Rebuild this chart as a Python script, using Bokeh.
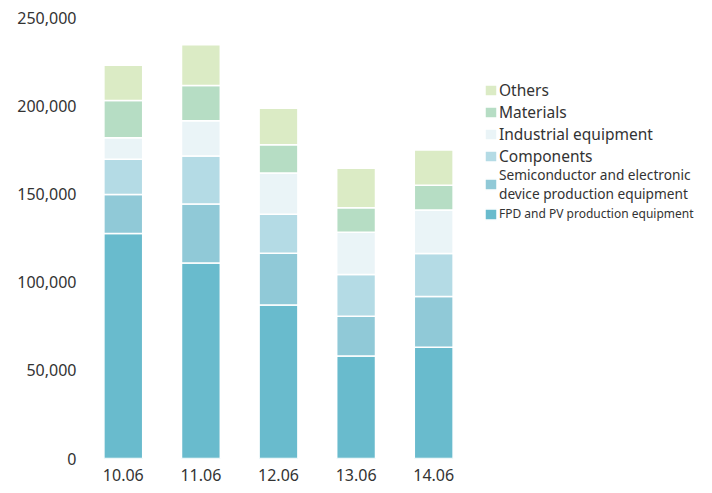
from bokeh.plotting import figure
from bokeh.models import FixedTicker, NumeralTickFormatter, Legend, LegendItem, ColumnDataSource
from bokeh.embed import file_html
from bokeh.resources import INLINE

periods = ["10.06", "11.06", "12.06", "13.06", "14.06"]
fpd = [127500, 110800, 87000, 58100, 63000]
semi = [22100, 33500, 29300, 22600, 28900]
components = [20000, 27200, 22200, 23600, 24300]
industrial = [12200, 20000, 23400, 24000, 24700]
materials = [21200, 20000, 15900, 13900, 14000]
others = [20000, 23000, 20700, 22300, 20000]
y_ticks = [0, 50000, 100000, 150000, 200000, 250000]

series = ["fpd", "semi", "components", "industrial", "materials", "others"]
labels = ["FPD and PV production equipment",
          "Semiconductor and electronic\ndevice production equipment",
          "Components", "Industrial equipment", "Materials", "Others"]
colors = ["#69bbcd", "#90c9d7", "#b4dbe5", "#eaf4f7", "#b6ddc4", "#dbebc5"]

xpos = list(range(len(periods)))
source = ColumnDataSource(dict(x=xpos, fpd=fpd, semi=semi, components=components,
                               industrial=industrial, materials=materials, others=others))

p = figure(x_range=(-0.5, 7.567), y_range=(0, 250000), width=710, height=490,
           output_backend="svg", toolbar_location=None,
           min_border_left=84, min_border_right=0, min_border_top=17, min_border_bottom=32)

rs = p.vbar_stack(series, x="x", width=0.5, source=source, color=colors,
                  line_color="white", line_width=1.5)

p.outline_line_color = None
p.xgrid.grid_line_color = None
p.ygrid.grid_line_color = None

for ax in (p.xaxis, p.yaxis):
    ax.axis_line_color = None
    ax.major_tick_line_color = None
    ax.minor_tick_line_color = None
    ax.major_tick_out = 0
    ax.major_label_text_font = "Noto Sans"
    ax.major_label_text_font_size = "16px"
    ax.major_label_text_color = "#333333"

p.xaxis.ticker = FixedTicker(ticks=xpos)
p.xaxis.major_label_overrides = {i: lab for i, lab in zip(xpos, periods)}
p.yaxis.ticker = FixedTicker(ticks=y_ticks)
p.yaxis.formatter = NumeralTickFormatter(format="0,0")
p.yaxis.major_label_standoff = 8
p.xaxis.major_label_standoff = 10

common = dict(padding=0, margin=0, border_line_color=None, background_fill_alpha=0,
              glyph_width=15, glyph_height=14, label_standoff=1,
              label_text_font="Noto Sans", label_text_color="#333333")

legA = Legend(items=[LegendItem(label=labels[i], renderers=[rs[i]]) for i in (5, 4, 3, 2)],
              location=(399, 291), label_height=20, spacing=0,
              label_text_font_size="15.5px", **common)
legB = Legend(items=[LegendItem(label=labels[1], renderers=[rs[1]])],
              location=(399, 255), label_height=16, spacing=0,
              label_text_font_size="13.7px", label_text_line_height=1.0, **common)
legC = Legend(items=[LegendItem(label=labels[0], renderers=[rs[0]])],
              location=(399, 236), label_height=14, spacing=0,
              label_text_font_size="12px", **common)
for leg in (legA, legB, legC):
    p.add_layout(leg, "center")

open("out.html", "w").write(file_html(p, INLINE))
